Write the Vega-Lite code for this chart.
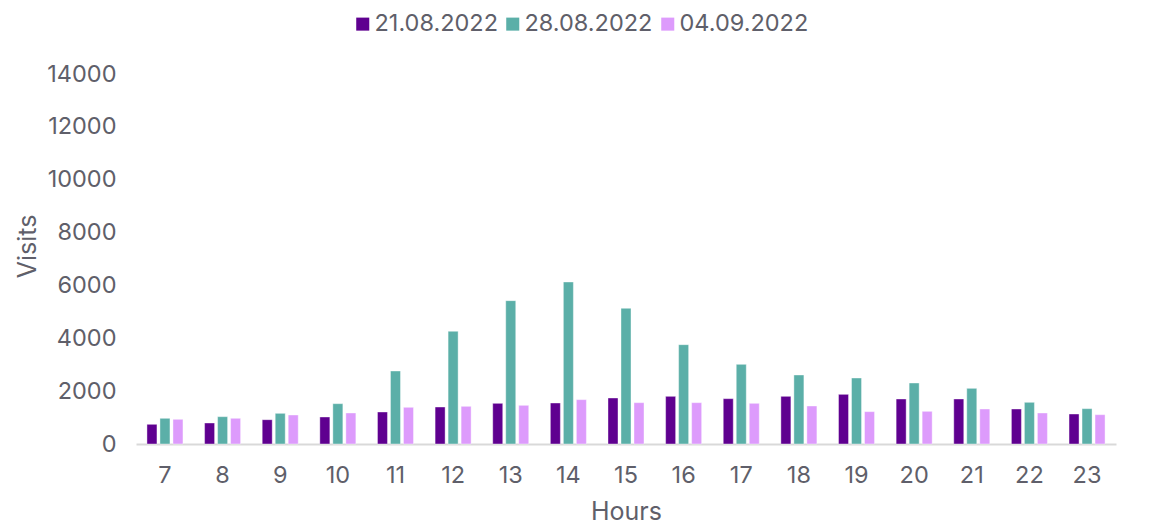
{
  "$schema": "https://vega.github.io/schema/vega-lite/v6.json",
  "width": 980,
  "height": 370,
  "autosize": {"type": "none"},
  "padding": {"left": 136, "top": 74, "right": 43, "bottom": 82},
  "background": "white",
  "config": {
    "view": {"stroke": null},
    "font": "Inter",
    "axis": {"labelColor": "#5f5f6a", "titleColor": "#5f5f6a", "labelFont": "Inter", "titleFont": "Inter", "titleFontWeight": "normal"},
    "legend": {"labelColor": "#5f5f6a", "labelFont": "Inter"}
  },
  "data": {
    "values": [
      {"hour": 7, "date": "21.08.2022", "visits": 745}, {"hour": 7, "date": "28.08.2022", "visits": 972}, {"hour": 7, "date": "04.09.2022", "visits": 934},
      {"hour": 8, "date": "21.08.2022", "visits": 795}, {"hour": 8, "date": "28.08.2022", "visits": 1034}, {"hour": 8, "date": "04.09.2022", "visits": 972},
      {"hour": 9, "date": "21.08.2022", "visits": 920}, {"hour": 9, "date": "28.08.2022", "visits": 1160}, {"hour": 9, "date": "04.09.2022", "visits": 1097},
      {"hour": 10, "date": "21.08.2022", "visits": 1022}, {"hour": 10, "date": "28.08.2022", "visits": 1526}, {"hour": 10, "date": "04.09.2022", "visits": 1173},
      {"hour": 11, "date": "21.08.2022", "visits": 1211}, {"hour": 11, "date": "28.08.2022", "visits": 2762}, {"hour": 11, "date": "04.09.2022", "visits": 1388},
      {"hour": 12, "date": "21.08.2022", "visits": 1400}, {"hour": 12, "date": "28.08.2022", "visits": 4264}, {"hour": 12, "date": "04.09.2022", "visits": 1425},
      {"hour": 13, "date": "21.08.2022", "visits": 1539}, {"hour": 13, "date": "28.08.2022", "visits": 5424}, {"hour": 13, "date": "04.09.2022", "visits": 1463},
      {"hour": 14, "date": "21.08.2022", "visits": 1551}, {"hour": 14, "date": "28.08.2022", "visits": 6130}, {"hour": 14, "date": "04.09.2022", "visits": 1678},
      {"hour": 15, "date": "21.08.2022", "visits": 1741}, {"hour": 15, "date": "28.08.2022", "visits": 5133}, {"hour": 15, "date": "04.09.2022", "visits": 1564},
      {"hour": 16, "date": "21.08.2022", "visits": 1804}, {"hour": 16, "date": "28.08.2022", "visits": 3758}, {"hour": 16, "date": "04.09.2022", "visits": 1564},
      {"hour": 17, "date": "21.08.2022", "visits": 1715}, {"hour": 17, "date": "28.08.2022", "visits": 3015}, {"hour": 17, "date": "04.09.2022", "visits": 1539},
      {"hour": 18, "date": "21.08.2022", "visits": 1804}, {"hour": 18, "date": "28.08.2022", "visits": 2611}, {"hour": 18, "date": "04.09.2022", "visits": 1438},
      {"hour": 19, "date": "21.08.2022", "visits": 1879}, {"hour": 19, "date": "28.08.2022", "visits": 2497}, {"hour": 19, "date": "04.09.2022", "visits": 1224},
      {"hour": 20, "date": "21.08.2022", "visits": 1703}, {"hour": 20, "date": "28.08.2022", "visits": 2308}, {"hour": 20, "date": "04.09.2022", "visits": 1236},
      {"hour": 21, "date": "21.08.2022", "visits": 1703}, {"hour": 21, "date": "28.08.2022", "visits": 2106}, {"hour": 21, "date": "04.09.2022", "visits": 1324},
      {"hour": 22, "date": "21.08.2022", "visits": 1324}, {"hour": 22, "date": "28.08.2022", "visits": 1577}, {"hour": 22, "date": "04.09.2022", "visits": 1173},
      {"hour": 23, "date": "21.08.2022", "visits": 1135}, {"hour": 23, "date": "28.08.2022", "visits": 1337}, {"hour": 23, "date": "04.09.2022", "visits": 1110}
    ]
  },
  "mark": {"type": "bar", "stroke": "white", "strokeOpacity": 0.4, "strokeWidth": 1},
  "encoding": {
    "x": {
      "field": "hour", "type": "ordinal", "title": "Hours",
      "scale": {"paddingInner": 0.375, "paddingOuter": 0.19},
      "axis": {"labelAngle": 0, "labelFontSize": 23.5, "titleFontSize": 25, "labelPadding": 19, "titlePadding": 13,
               "ticks": false, "domainColor": "#d9d9d9", "domainWidth": 2}
    },
    "xOffset": {
      "field": "date", "type": "nominal",
      "sort": ["21.08.2022", "28.08.2022", "04.09.2022"],
      "scale": {"paddingInner": 0.23, "paddingOuter": 0}
    },
    "y": {
      "field": "visits", "type": "quantitative", "title": "Visits",
      "scale": {"domain": [0, 14000]},
      "axis": {"values": [0, 2000, 4000, 6000, 8000, 10000, 12000, 14000], "grid": false, "domain": false, "ticks": false,
               "labelFontSize": 23.5, "titleFontSize": 25, "labelPadding": 20, "titlePadding": 6, "titleY": 172, "format": "d"}
    },
    "color": {
      "field": "date", "type": "nominal",
      "sort": ["21.08.2022", "28.08.2022", "04.09.2022"],
      "scale": {"domain": ["21.08.2022", "28.08.2022", "04.09.2022"], "range": ["#5f0090", "#5bafa8", "#dd9bfc"]},
      "legend": {"title": null, "orient": "none", "direction": "horizontal", "legendX": 215, "legendY": -62,
                 "symbolType": "square", "symbolSize": 170, "symbolStrokeWidth": 0, "labelFontSize": 23.5,
                 "labelOffset": 0, "columnPadding": 3}
    }
  }
}
